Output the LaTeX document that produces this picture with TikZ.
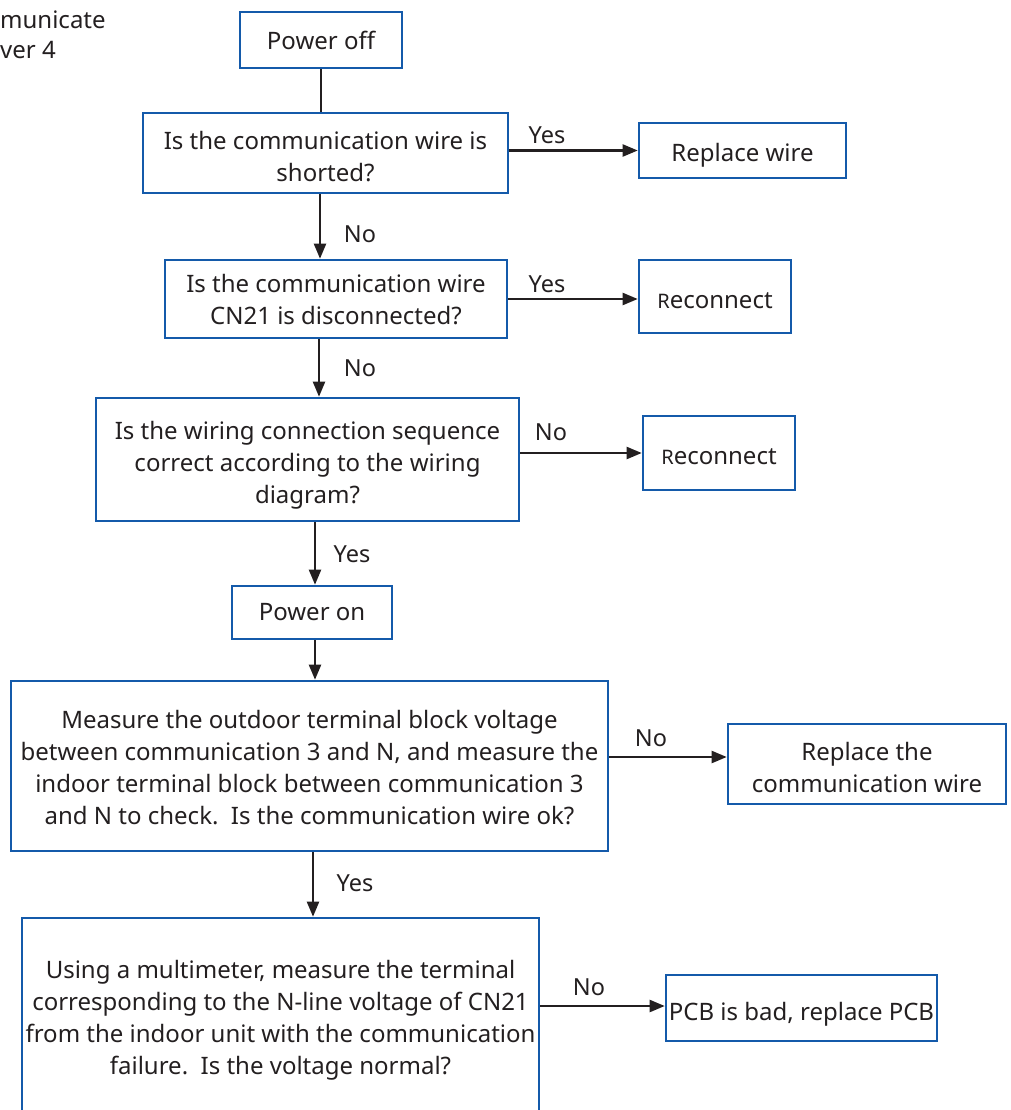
\documentclass[tikz,border=0pt]{standalone}
\usepackage{fontspec}
\setmainfont{Noto Sans}
\usetikzlibrary{arrows.meta,calc}
\definecolor{boxblue}{RGB}{20,90,170}
\definecolor{ink}{RGB}{35,31,32}
\tikzset{
  box/.style={draw=boxblue, line width=2.6pt, rectangle, align=center, text=ink, inner sep=0pt,
    font=\fontsize{24}{32}\selectfont},
  arr/.style={draw=ink, line width=2.2pt, -{Triangle[length=15pt,width=12pt]}},
  plain/.style={draw=ink, line width=2.2pt},
  lbl/.style={text=ink, font=\fontsize{23.5}{26}\selectfont, inner sep=0pt},
}
\newcommand{\smR}{{\fontsize{20}{24}\selectfont R}}
\newcommand{\boxtext}[2]{\raisebox{#1}[\height][\depth]{\begin{tabular}{@{}c@{}}#2\end{tabular}}}
\begin{document}
\begin{tikzpicture}[x=1pt,y=-1pt]
\useasboundingbox (0,0) rectangle (1010,1110);
\node[lbl, anchor=west, align=left, font=\fontsize{24}{30}\selectfont] (corner) at (0,35) {municate\\ver 4};

\node[box, minimum width=162, minimum height=56] (poweroff) at (321,40) {Power off};
\node[box, minimum width=365, minimum height=80] (q1) at (325.5,153) {\boxtext{-6pt}{Is the communication wire is\\shorted?}};
\node[box, minimum width=207, minimum height=55] (replace) at (742.5,150.5) {\boxtext{-5pt}{Replace wire}};
\node[box, minimum width=342, minimum height=78] (q2) at (336,299) {\boxtext{-3pt}{Is the communication wire\\CN21 is disconnected?}};
\node[box, minimum width=152, minimum height=73] (rec1) at (715,296.5) {\boxtext{-6pt}{\smR econnect}};
\node[box, minimum width=423, minimum height=123] (q3) at (307.5,459.5) {\boxtext{-6pt}{Is the wiring connection sequence\\correct according to the wiring\\diagram?}};
\node[box, minimum width=152, minimum height=74] (rec2) at (719,453) {\boxtext{-5pt}{\smR econnect}};
\node[box, minimum width=160, minimum height=53] (poweron) at (312,612.5) {Power on};
\node[box, minimum width=597, minimum height=170] (q4) at (309.5,766) {\boxtext{-4pt}{Measure the outdoor terminal block voltage\\between communication 3 and N, and measure the\\indoor terminal block between communication 3\\and N to check.\ \ Is the communication wire ok?}};
\node[box, minimum width=278, minimum height=80] (repwire) at (867,764) {\boxtext{-6pt}{Replace the\\communication wire}};
\node[box, minimum width=517, minimum height=200] (q5) at (280.5,1018) {\boxtext{-2pt}{Using a multimeter, measure the terminal\\corresponding to the N-line voltage of CN21\\from the indoor unit with the communication\\failure.\ \ Is the voltage normal?}};
\node[box, minimum width=271, minimum height=66] (pcb) at (801.5,1008) {\boxtext{-6pt}{PCB is bad, replace PCB}};

% connectors
\draw[plain] (poweroff.south) -- (poweroff.south |- q1.north);
\draw[arr] (q1.east |- replace.west) -- (replace.west);
\draw[arr] ([xshift=-5.5]q1.south) -- ([xshift=-5.5]q1.south |- q2.north);
\draw[arr] (q2.east) -- (q2.east -| rec1.west);
\draw[arr] ([xshift=-17]q2.south) -- ([xshift=-17]q2.south |- q3.north);
\draw[arr] (q3.east |- rec2.west) -- (rec2.west);
\draw[arr] ([xshift=7.5]q3.south) -- ([xshift=7.5]q3.south |- poweron.north);
\draw[arr] ([xshift=3]poweron.south) -- ([xshift=3]poweron.south |- q4.north);
\draw[arr] ([yshift=9]q4.east) -- ([yshift=9]q4.east -| repwire.west);
\draw[arr] ([yshift=12]q5.east) -- ([yshift=12]q5.east -| pcb.west);
\draw[arr] ([xshift=3.5]q4.south) -- ([xshift=3.5]q4.south |- q5.north);

% labels
\node[lbl] (l1) at (547,135) {Yes};
\node[lbl] (l2) at (360,234) {No};
\node[lbl] (l3) at (547,284) {Yes};
\node[lbl] (l4) at (360,368) {No};
\node[lbl] (l5) at (551,432) {No};
\node[lbl] (l6) at (352,554) {Yes};
\node[lbl] (l7) at (651,738) {No};
\node[lbl] (l8) at (355,883) {Yes};
\node[lbl] (l9) at (589,987) {No};
\end{tikzpicture}
\end{document}
